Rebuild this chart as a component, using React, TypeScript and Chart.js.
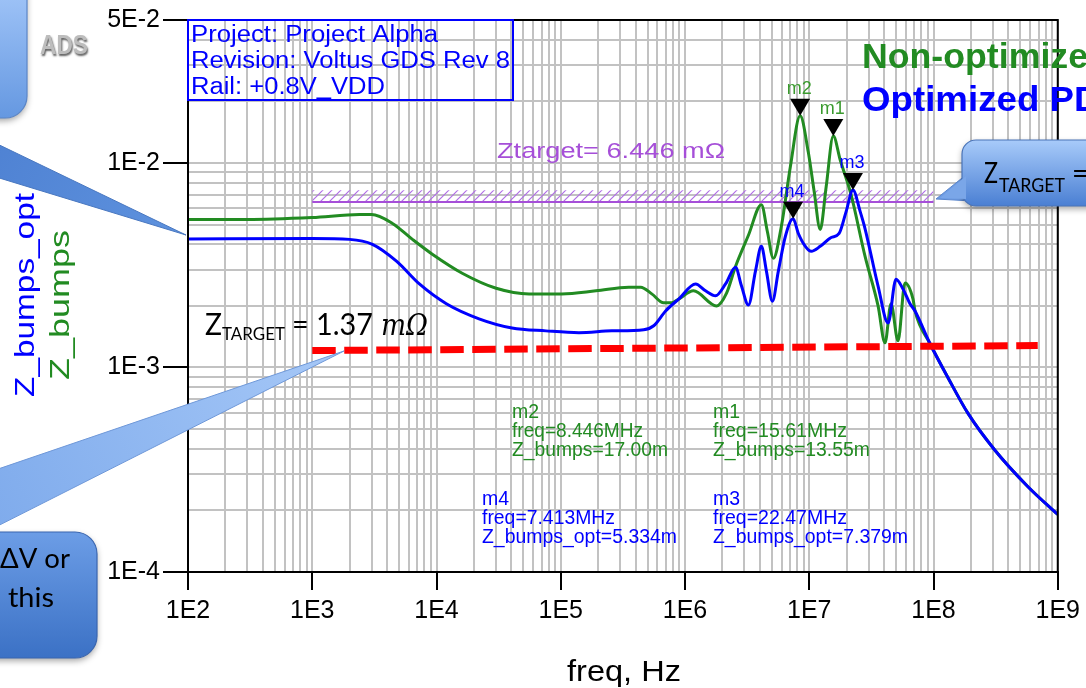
import React, { useEffect, useRef } from 'react';
import { Chart, registerables } from 'chart.js';

Chart.register(...registerables);

// ---------- data ----------
const greenFreq = [
  1e2, 3.0e2, 1e3, 2.4e3, 3.0e3, 4.42e3, 6.4e3, 9.25e3, 1.61e4, 3.02e4, 5.56e4, 1.02e5, 1.92e5, 3.52e5,
  4.4e5, 5.4e5, 6.73e5, 7.8e5, 8.89e5, 1.17e6, 1.79e6, 2.16e6, 2.55e6, 3.24e6, 4.12e6, 4.6e6, 5.14e6,
  5.96e6, 7.04e6, 8.446e6, 9.82e6, 1.096e7, 1.225e7, 1.368e7, 1.561e7, 1.775e7, 2.17e7, 2.81e7, 3.58e7,
  4.07e7, 4.55e7, 5.18e7, 5.9e7, 6.84e7, 7.1e7, 9.36e7, 1.305e8, 1.89e8, 3.11e8, 5.73e8, 1e9,
];
const greenZ = [
  5.29e-3, 5.29e-3, 5.41e-3, 5.59e-3, 5.59e-3, 5.06e-3, 4.23e-3, 3.58e-3, 2.89e-3, 2.44e-3, 2.29e-3, 2.29e-3,
  2.37e-3, 2.47e-3, 2.47e-3, 2.29e-3, 2.07e-3, 2.07e-3, 2.16e-3, 2.37e-3, 2.0e-3, 2.31e-3, 3.12e-3, 4.43e-3,
  6.25e-3, 4.62e-3, 3.42e-3, 4.89e-3, 9.56e-3, 17.0e-3, 11.3e-3, 7.23e-3, 4.73e-3, 7.65e-3, 13.55e-3,
  10.34e-3, 7.0e-3, 3.5e-3, 2.0e-3, 1.32e-3, 2.05e-3, 1.35e-3, 2.59e-3, 2.16e-3, 1.89e-3, 1.31e-3, 8.94e-4,
  5.98e-4, 3.95e-4, 2.62e-4, 1.91e-4,
];
const blueFreq = [
  1e2, 1e3, 2.0e3, 3.05e3, 4.76e3, 7.28e3, 1.2e4, 2.2e4, 4.05e4, 7.6e4, 1.4e5, 2.58e5, 4.65e5, 5.6e5, 6.98e5,
  8.9e5, 1.216e6, 1.463e6, 1.76e6, 2.12e6, 2.55e6, 2.85e6, 3.24e6, 3.69e6, 4.12e6, 4.52e6, 5.05e6, 5.64e6,
  6.42e6, 7.413e6, 8.17e6, 9.3e6, 1.038e7, 1.225e7, 1.5e7, 1.74e7, 1.98e7, 2.247e7, 2.57e7, 2.81e7, 3.58e7,
  4.31e7, 4.99e7, 5.68e7, 6.47e7, 7.1e7, 9.36e7, 1.305e8, 1.89e8, 3.11e8, 5.73e8, 1e9,
];
const blueZ = [
  4.25e-3, 4.27e-3, 4.23e-3, 4.0e-3, 3.31e-3, 2.56e-3, 2.05e-3, 1.73e-3, 1.56e-3, 1.51e-3, 1.48e-3, 1.51e-3,
  1.53e-3, 1.6e-3, 1.89e-3, 2.16e-3, 2.56e-3, 2.37e-3, 2.24e-3, 2.56e-3, 3.09e-3, 2.5e-3, 2.02e-3, 2.96e-3,
  3.91e-3, 2.96e-3, 2.11e-3, 2.96e-3, 4.37e-3, 5.334e-3, 4.52e-3, 3.91e-3, 3.7e-3, 3.91e-3, 4.32e-3, 4.52e-3,
  5.78e-3, 7.379e-3, 5.78e-3, 4.78e-3, 2.5e-3, 1.65e-3, 2.7e-3, 2.42e-3, 2.05e-3, 1.89e-3, 1.31e-3, 8.94e-4,
  5.98e-4, 3.95e-4, 2.62e-4, 1.91e-4,
];
const targetFreq = [1e3, 1e8];
const targetZ = [6.446e-3, 6.446e-3];
const hatchTopZ = [7.35e-3, 7.35e-3];
const redFreq = [1e3, 6.9e8];
const redZ = [1.21e-3, 1.28e-3];

const markerNames = ['m1', 'm2', 'm3', 'm4'];
const markerFreq = [15.61e6, 8.446e6, 22.47e6, 7.413e6];
const markerZ = [13.55e-3, 17.0e-3, 7.379e-3, 5.334e-3];

const xMajor = [1e2, 1e3, 1e4, 1e5, 1e6, 1e7, 1e8, 1e9];
const xTickLabels = ['1E2', '1E3', '1E4', '1E5', '1E6', '1E7', '1E8', '1E9'];
const yMajor = [1e-4, 1e-3, 1e-2, 5e-2];
const yTickLabels = ['1E-4', '1E-3', '1E-2', '5E-2'];

const xGrid: number[] = [];
for (let e = 2; e <= 8; e++) for (let k = 1; k <= 9; k++) xGrid.push(k * Math.pow(10, e));
xGrid.push(1e9);
const yGrid: number[] = [];
for (let e = -4; e <= -3; e++) for (let k = 1; k <= 9; k++) yGrid.push(k * Math.pow(10, e));
for (let k = 1; k <= 5; k++) yGrid.push(k * 1e-2);

// ---------- helpers ----------
const near = (a: number, b: number) => Math.abs(Math.log10(a) - Math.log10(b)) < 1e-6;
const labelFor = (v: number, majors: number[], labels: string[]) => {
  const i = majors.findIndex((m) => near(v, m));
  return i >= 0 ? labels[i] : '';
};
const pts = (fs: number[], zs: number[]) => fs.map((f, i) => ({ x: f, y: zs[i] }));

const ARIAL = '"Liberation Sans", Arial, sans-serif';
const CAL = 'Lato, "Open Sans", sans-serif';

function txt(
  ctx: CanvasRenderingContext2D,
  s: string,
  x: number,
  y: number,
  o: {
    font: string;
    color: string;
    width?: number;
    ref?: string;
    align?: CanvasTextAlign;
    baseline?: CanvasTextBaseline;
    rot?: number;
  }
) {
  ctx.save();
  ctx.font = o.font;
  ctx.fillStyle = o.color;
  ctx.textAlign = o.align || 'left';
  ctx.textBaseline = o.baseline || 'alphabetic';
  const w = ctx.measureText(o.ref || s).width;
  const sc = o.width ? o.width / w : 1;
  ctx.translate(x, y);
  if (o.rot) ctx.rotate(o.rot);
  ctx.scale(sc, 1);
  ctx.fillText(s, 0, 0);
  ctx.restore();
}

function poly(ctx: CanvasRenderingContext2D, p: number[][], fill: string | CanvasGradient, stroke?: string) {
  ctx.beginPath();
  ctx.moveTo(p[0][0], p[0][1]);
  for (let i = 1; i < p.length; i++) ctx.lineTo(p[i][0], p[i][1]);
  ctx.closePath();
  ctx.fillStyle = fill;
  ctx.fill();
  if (stroke) {
    ctx.strokeStyle = stroke;
    ctx.lineWidth = 1;
    ctx.stroke();
  }
}

function box(ctx: CanvasRenderingContext2D, x: number, y: number, w: number, h: number, r: number, c1: string, c2: string, stroke: string) {
  ctx.save();
  const g = ctx.createLinearGradient(0, y, 0, y + h);
  g.addColorStop(0, c1);
  g.addColorStop(1, c2);
  ctx.shadowColor = 'rgba(0,0,0,0.35)';
  ctx.shadowBlur = 6;
  ctx.shadowOffsetY = 3;
  ctx.beginPath();
  (ctx as any).roundRect(x, y, w, h, r);
  ctx.fillStyle = g;
  ctx.fill();
  ctx.shadowColor = 'transparent';
  ctx.strokeStyle = stroke;
  ctx.lineWidth = 1.2;
  ctx.stroke();
  ctx.restore();
}

const GREEN = '#228b22';
const BLUE = '#0000ff';
const PURPLE = '#a64fd8';

const overlay = {
  id: 'overlay',
  afterDraw(chart: any) {
    const ctx: CanvasRenderingContext2D = chart.ctx;
    const { left, top, right, bottom } = chart.chartArea;
    const xs = chart.scales.x;
    const ys = chart.scales.y;
    ctx.save();

    // plot frame
    ctx.strokeStyle = '#000';
    ctx.lineWidth = 2;
    ctx.strokeRect(left, top, right - left, bottom - top);

    // info box
    ctx.strokeStyle = BLUE;
    ctx.lineWidth = 2;
    ctx.strokeRect(188, 20, 325, 80);
    txt(ctx, 'Project: Project Alpha', 191, 42, { font: `23px ${ARIAL}`, color: BLUE, width: 247 });
    txt(ctx, 'Revision: Voltus GDS Rev 8', 191, 68, { font: `23px ${ARIAL}`, color: BLUE, width: 319 });
    txt(ctx, 'Rail: +0.8V_VDD', 191, 94, { font: `23px ${ARIAL}`, color: BLUE, width: 194 });

    // Ztarget label
    txt(ctx, 'Ztarget= 6.446 mΩ', 497, 158, { font: `22px ${ARIAL}`, color: PURPLE, width: 228 });

    // markers
    const markerColors = ['#3a9a2e', '#3a9a2e', BLUE, BLUE];
    markerNames.forEach((n, i) => {
      const px = xs.getPixelForValue(markerFreq[i]);
      const py = ys.getPixelForValue(markerZ[i]);
      poly(ctx, [[px, py], [px - 10, py - 17], [px + 10, py - 17]], '#000');
      txt(ctx, n, px - 1, py - 22, { font: `18px ${ARIAL}`, color: markerColors[i], align: 'center' });
    });

    // marker readouts
    const f19 = `19.5px ${ARIAL}`;
    txt(ctx, 'm2', 512, 418, { font: f19, color: GREEN });
    txt(ctx, 'freq=8.446MHz', 512, 437, { font: f19, color: GREEN, width: 131 });
    txt(ctx, 'Z_bumps=17.00m', 512, 456, { font: f19, color: GREEN, width: 156 });
    txt(ctx, 'm1', 713, 418, { font: f19, color: GREEN });
    txt(ctx, 'freq=15.61MHz', 713, 437, { font: f19, color: GREEN, width: 134 });
    txt(ctx, 'Z_bumps=13.55m', 713, 456, { font: f19, color: GREEN, width: 157 });
    txt(ctx, 'm4', 482, 505, { font: f19, color: BLUE });
    txt(ctx, 'freq=7.413MHz', 482, 524, { font: f19, color: BLUE, width: 133 });
    txt(ctx, 'Z_bumps_opt=5.334m', 482, 543, { font: f19, color: BLUE, width: 195 });
    txt(ctx, 'm3', 713, 505, { font: f19, color: BLUE });
    txt(ctx, 'freq=22.47MHz', 713, 524, { font: f19, color: BLUE, width: 134 });
    txt(ctx, 'Z_bumps_opt=7.379m', 713, 543, { font: f19, color: BLUE, width: 195 });

    // legend text
    txt(ctx, 'Non-optimized PDN', 862, 68, { font: `bold 35px ${ARIAL}`, color: GREEN, ref: 'Non-optimize', width: 226 });
    txt(ctx, 'Optimized PDN', 862, 111, { font: `bold 35px ${ARIAL}`, color: BLUE, ref: 'Optimized P', width: 212 });

    // ZTARGET = 1.37 mΩ
    txt(ctx, 'Z', 205, 335, { font: `31px ${CAL}`, color: '#000', width: 17 });
    txt(ctx, 'TARGET', 222, 340, { font: `18px ${CAL}`, color: '#000', width: 63 });
    txt(ctx, '= 1.37', 292, 335, { font: `31px ${CAL}`, color: '#000', width: 81 });
    txt(ctx, 'mΩ', 381, 335, { font: `italic 30px "DejaVu Serif", serif`, color: '#000', width: 47 });

    // axis titles
    txt(ctx, 'Z_bumps_opt', 26, 397, { font: `28px ${ARIAL}`, color: BLUE, width: 204, baseline: 'middle', rot: -Math.PI / 2 });
    txt(ctx, 'Z_bumps', 61, 380, { font: `28px ${ARIAL}`, color: GREEN, width: 150, baseline: 'middle', rot: -Math.PI / 2 });
    txt(ctx, 'freq, Hz', 567, 681, { font: `30px ${ARIAL}`, color: '#000', width: 114 });

    // ADS logo
    ctx.save();
    ctx.shadowColor = 'rgba(80,80,80,0.9)';
    ctx.shadowBlur = 2;
    ctx.shadowOffsetX = 1;
    ctx.shadowOffsetY = 1.5;
    txt(ctx, 'ADS', 40, 54, { font: `bold 28px ${ARIAL}`, color: '#bdbdbd', width: 48 });
    ctx.restore();

    // callouts: wedges
    const wg1 = ctx.createLinearGradient(0, 130, 186, 235);
    wg1.addColorStop(0, '#4f82d3');
    wg1.addColorStop(1, '#5e92de');
    poly(ctx, [[-40, 126], [186, 235], [-40, 166]], wg1, '#4a78c0');
    const wg2 = ctx.createLinearGradient(0, 540, 344, 350);
    wg2.addColorStop(0, '#7fabec');
    wg2.addColorStop(1, '#a6c8f7');
    poly(ctx, [[-40, 482], [344, 351], [-40, 545]], wg2, '#6f98d8');
    poly(ctx, [[936, 199], [972, 170], [972, 201]], '#6d9be3', '#5a86cc');

    // callout boxes
    box(ctx, -30, -30, 57, 148, 22, '#a9cbfb', '#6598e1', '#5b86c8');
    box(ctx, -40, 532, 137, 126, 22, '#6c9de6', '#3b71c5', '#3a66b0');
    box(ctx, 962, 140, 170, 66, 14, '#a8cbfa', '#4a7fd3', '#4a74b8');
    poly(ctx, [[940, 198], [966, 176], [966, 199]], '#7aa6e8');

    txt(ctx, 'ΔV or', 0, 568, { font: `27px ${CAL}`, color: '#000', width: 70 });
    txt(ctx, 'this', 8, 607, { font: `27px ${CAL}`, color: '#000', width: 46 });
    txt(ctx, 'Z', 984, 183, { font: `28px ${CAL}`, color: '#000', width: 14 });
    txt(ctx, 'TARGET', 999, 192, { font: `19px ${CAL}`, color: '#000', width: 66 });
    txt(ctx, '=', 1072, 183, { font: `28px ${CAL}`, color: '#000' });

    ctx.restore();
  },
};

export default function App() {
  const ref = useRef<HTMLCanvasElement | null>(null);

  useEffect(() => {
    const canvas = ref.current;
    if (!canvas) return;
    const c2 = canvas.getContext('2d') as CanvasRenderingContext2D;

    const pc = document.createElement('canvas');
    pc.width = 9;
    pc.height = 9;
    const p = pc.getContext('2d') as CanvasRenderingContext2D;
    p.strokeStyle = '#b06ee6';
    p.lineWidth = 1.2;
    p.beginPath();
    p.moveTo(0, 9);
    p.lineTo(9, 0);
    p.moveTo(-1, 1);
    p.lineTo(1, -1);
    p.moveTo(8, 10);
    p.lineTo(10, 8);
    p.stroke();
    const pattern = c2.createPattern(pc, 'repeat') as CanvasPattern;

    const xTickColor = (c: any) => (c.tick && xMajor.some((m) => near(c.tick.value, m)) ? '#000' : 'rgba(0,0,0,0)');
    const yTickColor = (c: any) => (c.tick && yMajor.some((m) => near(c.tick.value, m)) ? '#000' : 'rgba(0,0,0,0)');

    const chart = new Chart(canvas, {
      type: 'line',
      data: {
        datasets: [
          {
            label: 'Z_bumps',
            data: pts(greenFreq, greenZ),
            borderColor: GREEN,
            borderWidth: 3,
            pointRadius: 0,
            cubicInterpolationMode: 'monotone',
            fill: false,
            order: 3,
          },
          {
            label: 'Z_bumps_opt',
            data: pts(blueFreq, blueZ),
            borderColor: BLUE,
            borderWidth: 3,
            pointRadius: 0,
            cubicInterpolationMode: 'monotone',
            fill: false,
            order: 2,
          },
          {
            label: 'Z_TARGET 1.37m',
            data: pts(redFreq, redZ),
            borderColor: '#ff0000',
            borderWidth: 7,
            borderDash: [23.5, 8.5],
            borderCapStyle: 'butt',
            pointRadius: 0,
            tension: 0,
            fill: false,
            order: 1,
          },
          {
            label: 'Ztarget',
            data: pts(targetFreq, targetZ),
            borderColor: PURPLE,
            borderWidth: 2,
            pointRadius: 0,
            tension: 0,
            fill: false,
            order: 9,
          },
          {
            label: 'Ztarget hatch',
            data: pts(targetFreq, hatchTopZ),
            borderColor: 'rgba(0,0,0,0)',
            borderWidth: 0,
            pointRadius: 0,
            tension: 0,
            backgroundColor: pattern as any,
            fill: 3,
            order: 10,
          },
        ],
      },
      options: {
        responsive: false,
        animation: false,
        devicePixelRatio: 1,
        events: [],
        layout: { padding: { left: 0, right: 26, top: 20, bottom: 0 } },
        plugins: { legend: { display: false }, tooltip: { enabled: false }, title: { display: false } },
        scales: {
          x: {
            type: 'logarithmic',
            min: 1e2,
            max: 1e9,
            afterBuildTicks: (s: any) => {
              s.ticks = xGrid.map((v) => ({ value: v }));
            },
            afterFit: (s: any) => {
              s.height = 116;
            },
            ticks: {
              autoSkip: false,
              maxRotation: 0,
              minRotation: 0,
              padding: 6,
              color: '#000',
              font: { family: ARIAL, size: 25 },
              callback: (v: any) => labelFor(Number(v), xMajor, xTickLabels),
            },
            grid: { color: '#c2c2c2', lineWidth: 2, tickLength: 18, tickColor: xTickColor, tickWidth: 2 },
            border: { display: true, color: '#000', width: 2 },
          },
          y: {
            type: 'logarithmic',
            min: 1e-4,
            max: 5e-2,
            afterBuildTicks: (s: any) => {
              s.ticks = yGrid.map((v) => ({ value: v }));
            },
            afterFit: (s: any) => {
              s.width = 188;
            },
            ticks: {
              autoSkip: false,
              padding: 3,
              color: '#000',
              font: { family: ARIAL, size: 25 },
              callback: (v: any) => labelFor(Number(v), yMajor, yTickLabels),
            },
            grid: { color: '#c2c2c2', lineWidth: 2, tickLength: 25, tickColor: yTickColor, tickWidth: 2 },
            border: { display: true, color: '#000', width: 2 },
          },
        },
      },
      plugins: [overlay],
    } as any);

    return () => chart.destroy();
  }, []);

  return (
    <div style={{ position: 'absolute', left: 0, top: 0, width: 1086, height: 688, background: '#fff' }}>
      <canvas ref={ref} width={1086} height={688} style={{ display: 'block', width: 1086, height: 688 }} />
    </div>
  );
}
